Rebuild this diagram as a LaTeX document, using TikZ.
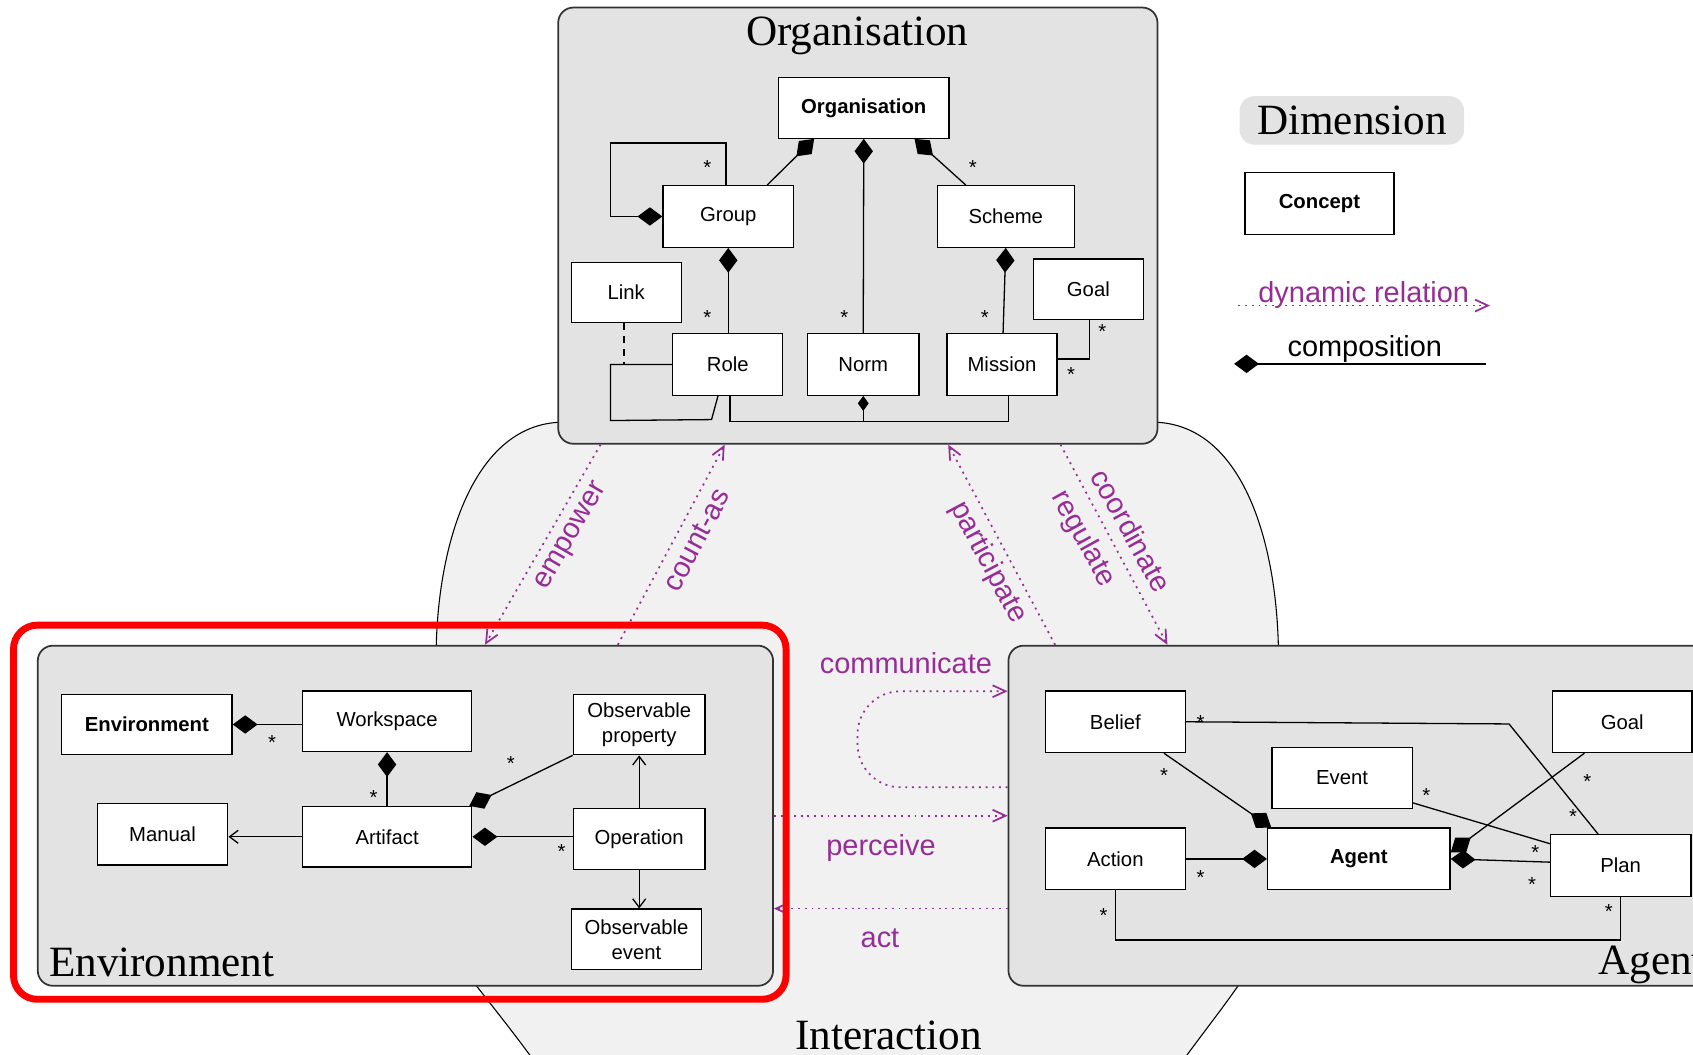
\documentclass[tikz,border=0pt]{standalone}
\usepackage{fontspec}
\setmainfont{Liberation Sans}
\newfontfamily\ttlfont{Liberation Serif}
\usetikzlibrary{arrows.meta,calc}
\definecolor{dimfill}{gray}{0.89}
\definecolor{intfill}{gray}{0.945}
\definecolor{dynpurple}{RGB}{150,45,150}
\newcommand\labf{\fontsize{9.4}{11.5}\selectfont}
\newcommand\dynf{\fontsize{13.4}{15}\selectfont}
\newcommand\ttlf{\ttlfont\fontsize{20}{24}\selectfont}
% box from screen corners (x1,y1)-(x2,y2)
\newcommand\cbox[7][]{%
  \pgfmathsetmacro\cbw{(#5-#3)*0.5}%
  \pgfmathsetmacro\cbh{(#6-#4)*0.5}%
  \node[concept,#1,minimum width=\cbw pt,minimum height=\cbh pt] (#2) at ({(#3+#5)/2},{(#4+#6)/2}) {#7};}
\newcommand\mstar[3]{\node[mult] (#1) at (#2,{#3+4}) {*};}
\tikzset{
  concept/.style={draw, fill=white, line width=0.6pt, inner sep=0pt, align=center, font=\labf},
  dim/.style={draw=black!80, fill=dimfill, line width=0.8pt, rounded corners=7pt},
  conn/.style={line width=0.6pt},
  comp/.style={conn, arrows={Diamond[length=11.5pt,width=8.5pt]-}},
  compsmall/.style={conn, arrows={Diamond[length=7pt,width=5pt]-}},
  openarr/.style={conn, arrows={-Straight Barb[length=4pt,width=6pt]}},
  dyn/.style={draw=dynpurple, line width=0.8pt, dash pattern=on 0.9pt off 2.2pt, arrows={-Straight Barb[length=6pt,width=5.5pt]}},
  dynlab/.style={text=dynpurple, font=\dynf, inner sep=0pt},
  mult/.style={font=\labf, inner sep=0pt},
  ttl/.style={font=\ttlf, inner sep=0pt},
}
\begin{document}
\begin{tikzpicture}[x=0.5pt,y=-0.5pt]
\useasboundingbox (0,0) rectangle (1568,977);
\clip (0,0) rectangle (1568,977);
\fill[white] (0,0) rectangle (1568,977);

% Interaction region
\draw[fill=intfill, line width=0.5pt] (520,391) .. controls (440,393) and (406,500) .. (404,600)
  .. controls (403,780) and (415,880) .. (442,914) .. controls (460,937) and (480,962) .. (500,990)
  -- (1090,990) .. controls (1110,962) and (1130,937) .. (1146,914)
  .. controls (1173,880) and (1185,780) .. (1184,600) .. controls (1182,500) and (1150,393) .. (1069,391) -- cycle;
\node[ttl, anchor=base] (tint) at (823,972) {Interaction};

% Dimension boxes
\cbox[dim]{dorg}{517}{7}{1072}{411}{}
\cbox[dim]{denv}{35}{598}{716}{913}{}
\cbox[dim]{dagt}{934}{598}{1620}{913}{}
\node[ttl, anchor=base] (torg) at (794,42) {Organisation};
\node[ttl, anchor=base west] (tenv) at (45,904) {Environment};
\node[ttl, anchor=base west] (tagt) at (1480,903) {Agent};

% ---------- Organisation ----------
\cbox[font=\labf\bfseries]{oorg}{721}{72}{879}{128}{Organisation}
\cbox{ogrp}{614}{172}{735}{229}{Group}
\cbox{osch}{868}{172}{995}{229}{Scheme}
\cbox{olnk}{529}{243}{631}{299}{Link}
\cbox{ogoal}{957}{240}{1059}{296}{Goal}
\cbox{orole}{623}{309}{725}{366}{Role}
\cbox{onorm}{748}{309}{851}{366}{Norm}
\cbox{omis}{877}{309}{979}{366}{Mission}

\draw[comp] ($(oorg.south)+(-46,0)$) -- ($(ogrp.north)+(36,0)$);
\draw[comp] (oorg.south) -- (onorm.north);
\draw[comp] ($(oorg.south)+(47,0)$) -- ($(osch.north)+(-37,0)$);
\draw[comp] (ogrp.south) -- (ogrp.south |- orole.north);
\draw[comp] (osch.south) -- ($(omis.north)+(1,0)$);
\draw[comp] (ogrp.west) -- ++(-48,0) |- ($(ogrp.north)+(-2,-39)$) -- ($(ogrp.north)+(-2,0)$);
\draw[conn] (orole.west) -- ++(-57,0) -- ++(0,52) -- ($(orole.south)+(-15,22)$) -- ($(orole.south)+(-9,0)$);
\draw[conn, dashed] ($(olnk.south)+(-2,0)$) -- ++(0,38);
\draw[conn] ($(orole.south)+(2,0)$) -- ++(0,24) -| ($(omis.south)+(6,0)$);
\draw[compsmall] (onorm.south) -- ++(0,24);
\draw[conn] ($(ogoal.south)+(1,0)$) |- ($(omis.east)+(0,-5)$);

\mstar{so1}{655}{151}
\mstar{so2}{901}{151}
\mstar{so3}{655}{290}
\mstar{so4}{782}{290}
\mstar{so5}{912}{290}
\mstar{so6}{1021}{303}
\mstar{so7}{992}{343}

% ---------- Environment ----------
\cbox[font=\labf\bfseries]{eenv}{57}{643}{215}{699}{Environment}
\cbox{ews}{280}{640}{437}{696}{Workspace}
\cbox{eobp}{531}{643}{653}{699}{Observable\\property}
\cbox{eman}{90}{744}{211}{801}{Manual}
\cbox{eart}{280}{747}{437}{803}{Artifact}
\cbox{eop}{531}{749}{653}{805}{Operation}
\cbox{eobe}{529}{842}{650}{898}{Observable\\event}

\draw[comp] (eenv.east) -- (eenv.east -| ews.west);
\draw[comp] (ews.south) -- (eart.north);
\draw[openarr] (eart.west) -- (eart.west -| eman.east);
\draw[comp] ($(eart.north east)+(-3,0)$) -- (eobp.south west);
\draw[comp] (eart.east) -- (eart.east -| eop.west);
\draw[openarr] (eop.north) -- (eobp.south);
\draw[openarr] (eop.south) -- (eop.south |- eobe.north);

\mstar{se1}{252}{684}
\mstar{se2}{346}{735}
\mstar{se3}{473}{703}
\mstar{se4}{520}{785}

% ---------- Agent ----------
\cbox{abel}{968}{640}{1098}{697}{Belief}
\cbox{agoal}{1438}{640}{1567}{697}{Goal}
\cbox{aev}{1178}{692}{1308}{749}{Event}
\cbox{aact}{968}{767}{1098}{824}{Action}
\cbox[font=\labf\bfseries]{aag}{1174}{767}{1343}{824}{Agent}
\cbox{aplan}{1436}{773}{1566}{830}{Plan}

\draw[comp] ($(aag.north west)+(4,0)$) -- ($(abel.south)+(45,0)$);
\draw[conn] (abel.east) -- ($(abel.east)+(299,2)$) -- ($(aplan.north)+(-21,0)$);
\draw[comp] ($(aag.east)+(0,-6)$) -- ($(agoal.south west)+(30,0)$);
\draw[conn] ($(aev.south east)+(0,-6)$) -- ($(aplan.north west)+(0,9)$);
\draw[comp] (aag.east) -- ($(aplan.west)+(0,-3)$);
\draw[comp] (aag.west) -- (aag.west -| aact.east);
\draw[conn] (aact.south) -- ++(0,46) -| (aplan.south);

\mstar{sa1}{1112}{665}
\mstar{sa2}{1078}{714}
\mstar{sa3}{1321}{733}
\mstar{sa4}{1470}{720}
\mstar{sa5}{1457}{752}
\mstar{sa6}{1422}{786}
\mstar{sa7}{1419}{815}
\mstar{sa8}{1112}{809}
\mstar{sa9}{1022}{844}
\mstar{sa10}{1490}{840}

% ---------- Dynamic relations ----------
\draw[dyn] ($(dorg.south west)+(40,0)$) -- ($(denv.north west)+(415,0)$);
\draw[dyn] ($(denv.north west)+(538,0)$) -- ($(dorg.south west)+(155,0)$);
\draw[dyn] ($(dagt.north west)+(44,0)$) -- ($(dorg.south west)+(362,0)$);
\draw[dyn] ($(dorg.south west)+(466,0)$) -- ($(dagt.north west)+(148,0)$);
\draw[dyn, rounded corners=20pt] ($(dagt.north west)+(0,132)$) -- ++(-139,0) -- ++(0,-89) -- ($(dagt.north west)+(0,43)$);
\draw[dyn] (denv.east) -- (denv.east -| dagt.west);
\coordinate (actA) at ($(dagt.west)+(0,86)$);
\draw[dyn] (actA) -- (actA -| denv.east);

\node[dynlab, rotate=60] (lemp) at (530,497) {empower};
\node[dynlab, rotate=62] (lcnt) at (645,500) {count-as};
\node[dynlab, rotate=-62] (lpar) at (915,521) {participate};
\node[dynlab, rotate=-61] (lreg) at (1003,499) {regulate};
\node[dynlab, rotate=-61] (lcoo) at (1048,491) {coordinate};
\node[dynlab] (lcom) at (839,614) {communicate};
\node[dynlab] (lper) at (816,785) {perceive};
\node[dynlab] (lact) at (815,869) {act};

% ---------- Legend ----------
\cbox[dim, draw=none, font=\ttlf]{ldim}{1148}{89}{1356}{134}{Dimension}
\cbox[font=\labf\bfseries]{lcon}{1153}{160}{1291}{217}{Concept}
\coordinate (ldynA) at (1147,283);
\coordinate (ldynB) at (1380,283);
\draw[dyn] (ldynA) -- (ldynB);
\node[dynlab, anchor=base] (ldyntxt) at (1263,280) {dynamic relation};
\coordinate (lcompA) at (1143,337);
\coordinate (lcompB) at (1376,337);
\draw[comp] (lcompA) -- (lcompB);
\node[font=\dynf, inner sep=0pt, anchor=base] (lcomptxt) at (1264,330) {composition};

% highlight
\draw[red, line width=3.2pt, rounded corners=11pt] (12.5,579) rectangle (728,925.5);
\end{tikzpicture}
\end{document}
